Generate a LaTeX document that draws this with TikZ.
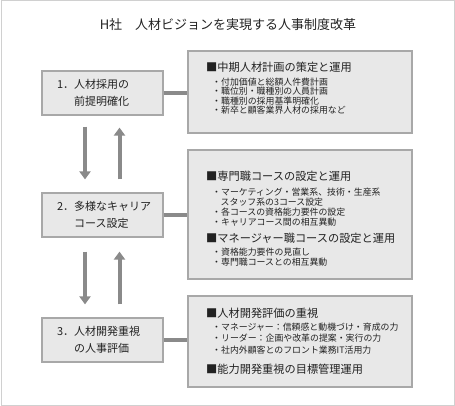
\documentclass[tikz,border=0pt]{standalone}
\usepackage{fontspec}
\setmainfont{Noto Sans CJK JP}
\usetikzlibrary{arrows.meta,positioning}
\definecolor{boxfill}{HTML}{E8E8E8}
\definecolor{boxline}{HTML}{A8A8A8}
\definecolor{linkgray}{HTML}{8A8A8A}
\definecolor{framegray}{HTML}{D0D0D0}
\definecolor{txt}{HTML}{222222}
\newcommand{\numgap}{\phantom{1．}}
\tikzset{
  stepbox/.style={draw=boxline, line width=1.2pt, fill=boxfill, minimum width=121pt,
    minimum height=44pt, align=left, text width=91pt, font=\fontsize{11}{17}\selectfont,
    text=txt, inner sep=0pt},
  planbox/.style={draw=boxline, line width=1.2pt, fill=boxfill, minimum width=224pt, inner sep=0pt},
  head/.style={anchor=west, font=\fontsize{11.2}{13}\selectfont, text=txt, inner sep=0pt},
  item/.style={anchor=west, font=\fontsize{8.9}{10}\selectfont, text=txt, inner sep=0pt},
  link/.style={linkgray, line width=3.5pt},
  flow/.style={linkgray, line width=4pt, -{Triangle[width=11pt,length=8pt]}},
}
\begin{document}
\begin{tikzpicture}[x=1pt, y=-1pt]
  \useasboundingbox (0,0) rectangle (455,406);
  \draw[framegray, line width=1pt] (1,1) rectangle (454,405);
  \node[text=txt, font=\fontsize{13}{15}\selectfont] (title) at (228,25) {H社　人材ビジョンを実現する人事制度改革};

  % left column
  \node[stepbox] (s1) at (102.5,93) {1．人材採用の\\\numgap 前提明確化};
  \node[stepbox] (s2) at (102.5,215) {2．多様なキャリア\\\numgap コース設定};
  \node[stepbox] (s3) at (102.5,340) {3．人材開発重視\\\numgap の人事評価};

  % right column
  \node[planbox, minimum height=82pt] (p1) at (300,92) {};
  \node[planbox, minimum height=129pt] (p2) at (300,214.5) {};
  \node[planbox, minimum height=91pt] (p3) at (300,341.5) {};

  \node[head] (h11) at (206,67) {■中期人材計画の策定と運用};
  \node[item] (i11) at (212,82) {・付加価値と総額人件費計画};
  \node[item] (i12) at (212,91.5) {・職位別・職種別の人員計画};
  \node[item] (i13) at (212,101) {・職種別の採用基準明確化};
  \node[item] (i14) at (212,110.5) {・新卒と顧客業界人材の採用など};

  \node[head] (h21) at (206,176) {■専門職コースの設定と運用};
  \node[item] (i21) at (212,192) {・マーケティング・営業系、技術・生産系};
  \node[item] (i22) at (220.5,202) {スタッフ系の3コース設定};
  \node[item] (i23) at (212,212) {・各コースの資格能力要件の設定};
  \node[item] (i24) at (212,222) {・キャリアコース間の相互異動};
  \node[head] (h22) at (206,238) {■マネージャー職コースの設定と運用};
  \node[item] (i25) at (212,252) {・資格能力要件の見直し};
  \node[item] (i26) at (212,262) {・専門職コースとの相互異動};

  \node[head] (h31) at (206,313) {■人材開発評価の重視};
  \node[item] (i31) at (212,327) {・マネージャー：信頼感と動機づけ・育成の力};
  \node[item] (i32) at (212,338.5) {・リーダー：企画や改革の提案・実行の力};
  \node[item] (i33) at (212,350) {・社内外顧客とのフロント業務IT活用力};
  \node[head] (h32) at (206,369) {■能力開発重視の目標管理運用};

  % connectors
  \foreach \n in {1,2,3}
    \draw[link] (s\n.east) -- (s\n.east -| p\n.west);

  % flow arrows
  \draw[flow] ([xshift=-17.5pt,yshift=-11pt]s1.south) -- ([xshift=-17.5pt,yshift=13pt]s2.north);
  \draw[flow] ([xshift=17pt,yshift=13pt]s2.north) -- ([xshift=17pt,yshift=-12pt]s1.south);
  \draw[flow] ([xshift=-17.5pt,yshift=-14pt]s2.south) -- ([xshift=-17.5pt,yshift=13pt]s3.north);
  \draw[flow] ([xshift=17pt,yshift=13pt]s3.north) -- ([xshift=17pt,yshift=-14pt]s2.south);
\end{tikzpicture}
\end{document}
